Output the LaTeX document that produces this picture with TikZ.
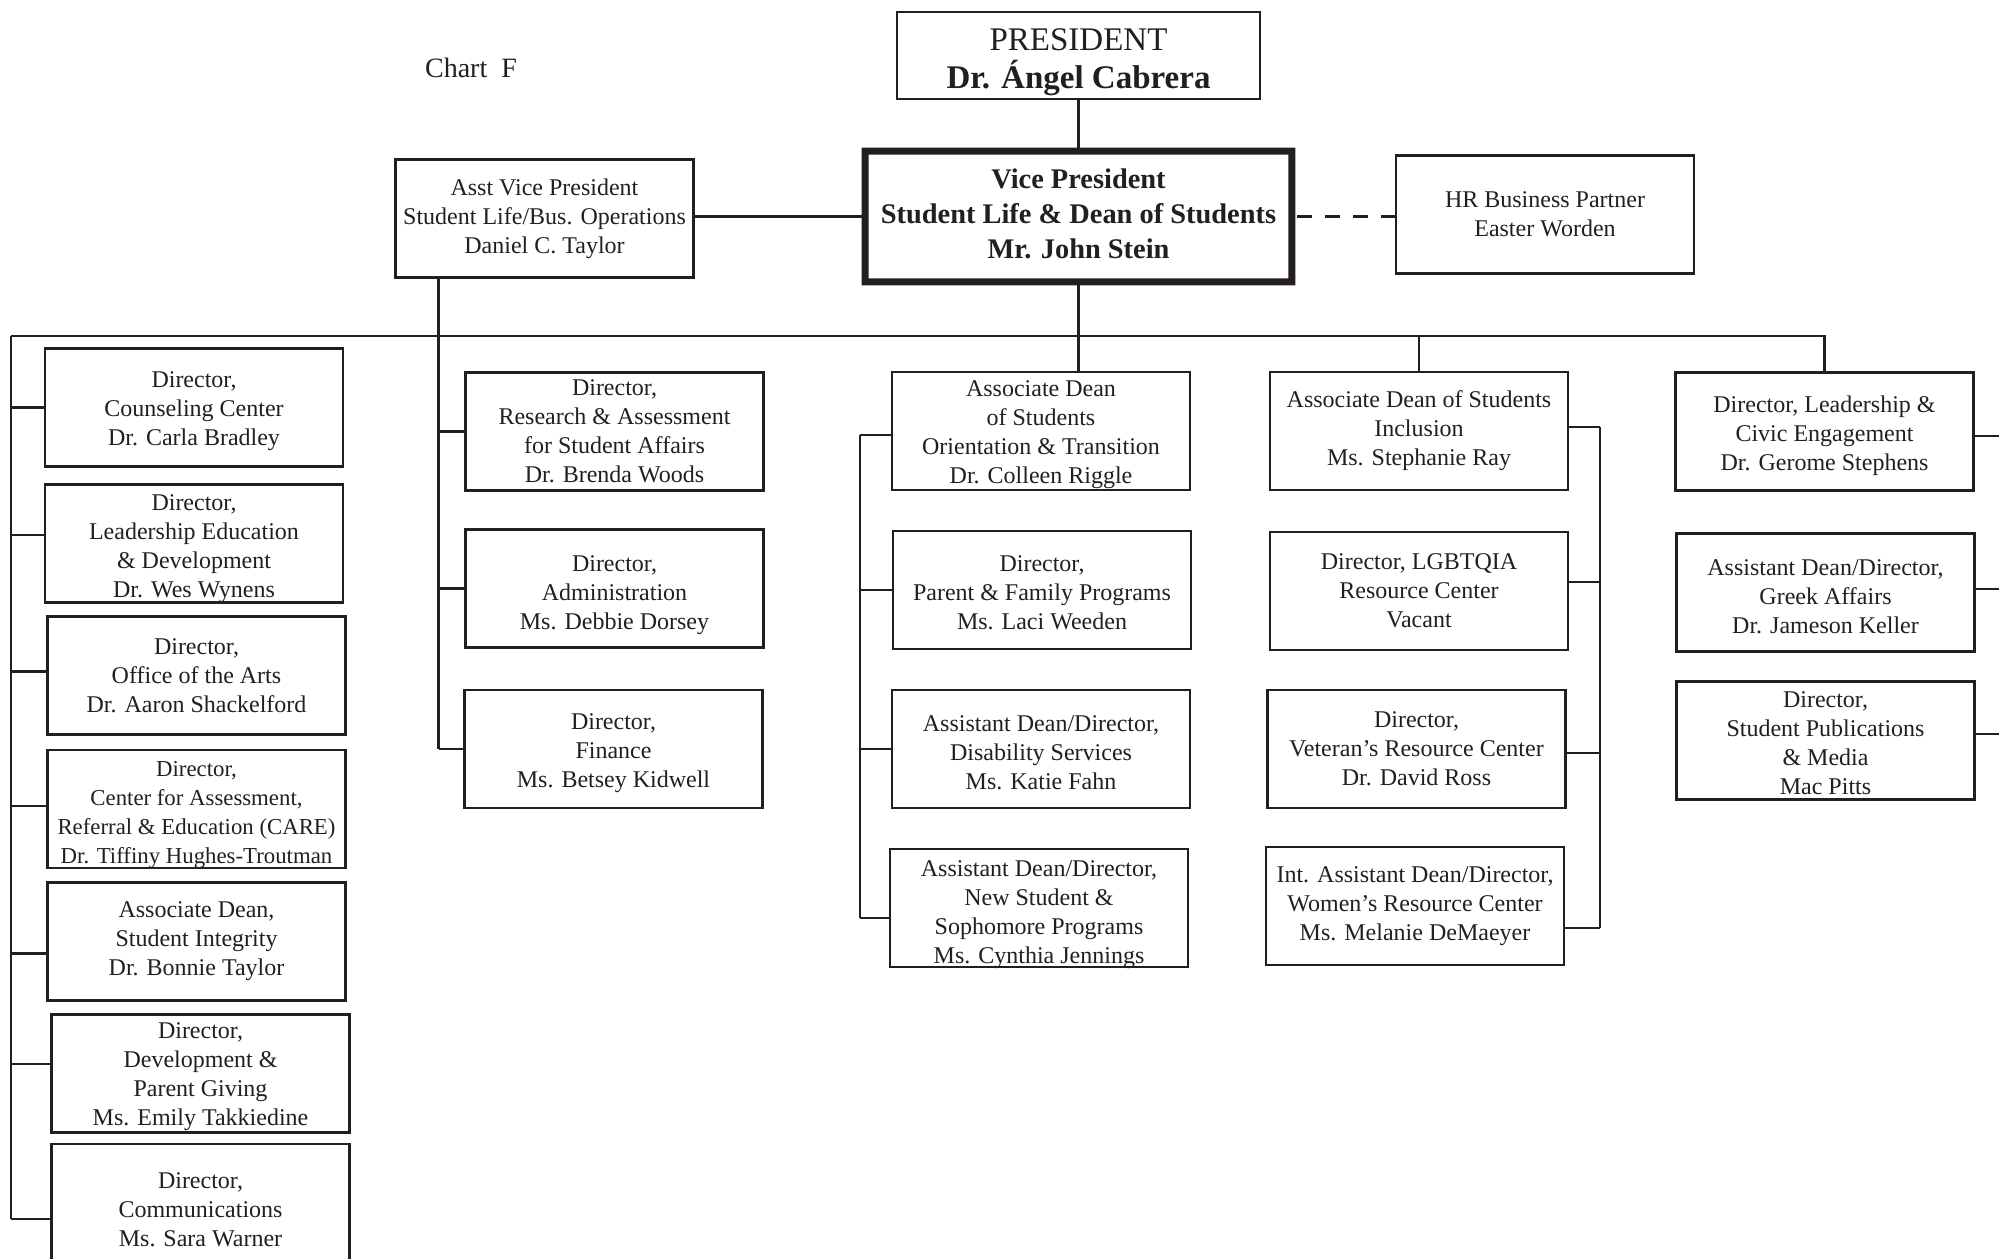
\documentclass[tikz,border=0pt]{standalone}
\usepackage{fontspec}
\setmainfont{Liberation Serif}
\definecolor{ink}{HTML}{231F20}
\tikzset{
  box/.style={draw=ink, line width=1.3pt, minimum width=149pt, minimum height=59pt, inner sep=0pt},
  txt/.style={inner sep=0pt, align=center, text=ink, font=\fontsize{12}{14.5}\selectfont},
  link/.style={draw=ink, line width=1.3pt},
  dashlink/.style={draw=ink, line width=1.3pt, dash pattern=on 7.5pt off 6.5pt},
}
% \obox[box options]{name}{position}{text shift}{text}
\newcommand\obox[5][]{%
  \node[box,#1] (#2) at (#3) {};
  \node[txt, yshift=#4] (#2t) at (#2.center) {#5};}
\begin{document}
\begin{tikzpicture}[x=0.5pt,y=-0.5pt]
\useasboundingbox (0,0) rectangle (1999,1259);
\clip (0,0) rectangle (1999,1259);
\fill[white] (0,0) rectangle (1999,1259);

\node[text=ink, font=\fontsize{14}{16}\selectfont] (chart) at (471,68) {Chart~~F};

% top
\node[box, minimum width=181.5pt, minimum height=43.5pt] (pres) at (1078.5,55.5) {};
\node[txt, font=\fontsize{16.5}{19}\selectfont, yshift=-3.2pt] (prest) at (pres.center) {PRESIDENT\\\textbf{Dr. Ángel Cabrera}};
\node[inner sep=0pt, minimum width=213pt, minimum height=65pt] (vp) at (1078.5,216.5) {};
\fill[ink, even odd rule]
  ([shift={(-1.75pt,1.75pt)}]vp.north west) rectangle ([shift={(1.75pt,-1.75pt)}]vp.south east)
  ([shift={(1.75pt,-1.75pt)}]vp.north west) rectangle ([shift={(-1.75pt,1.75pt)}]vp.south east);
\node[txt, font=\fontsize{14.2}{17.3}\selectfont\bfseries, yshift=1.3pt] (vpt) at (vp.center) {Vice President\\Student Life \& Dean of Students\\Mr. John Stein};
\obox{asvp}{544.5,218.5}{0pt}{Asst Vice President\\Student Life/Bus. Operations\\Daniel C. Taylor}
\obox{hr}{1545,214.5}{0pt}{HR Business Partner\\Easter Worden}

% left column
\obox{L1}{194,407.5}{-1.9pt}{Director,\\Counseling Center\\Dr. Carla Bradley}
\obox{L2}{194,543.5}{-2.5pt}{Director,\\Leadership Education\\\& Development\\Dr. Wes Wynens}
\obox{L3}{196.5,675.5}{0pt}{Director,\\Office of the Arts\\Dr. Aaron Shackelford}
\obox{L4}{196.5,809}{-2.9pt}{\fontsize{11.4}{14.5}\selectfont Director,\\\fontsize{11.4}{14.5}\selectfont Center for Assessment,\\\fontsize{11.4}{14.5}\selectfont Referral \& Education (CARE)\\\fontsize{11.4}{14.5}\selectfont Dr. Tiffiny Hughes-Troutman}
\obox{L5}{196.5,941.5}{0pt}{Associate Dean,\\Student Integrity\\Dr. Bonnie Taylor}
\obox{L6}{200.5,1073.5}{-1.6pt}{Director,\\Development \&\\Parent Giving\\Ms. Emily Takkiedine}
\obox[minimum height=66pt]{L7}{200.5,1210}{0pt}{Director,\\Communications\\Ms. Sara Warner}

% asst VP column
\obox{M1}{614.5,431.5}{0pt}{Director,\\Research \& Assessment\\for Student Affairs\\Dr. Brenda Woods}
\obox{M2}{614.5,588.5}{-3.2pt}{Director,\\Administration\\Ms. Debbie Dorsey}
\obox{M3}{613.5,749}{-1.9pt}{Director,\\Finance\\Ms. Betsey Kidwell}

% orientation column
\obox{A1}{1041,431}{-1.6pt}{Associate Dean\\of Students\\Orientation \& Transition\\Dr. Colleen Riggle}
\obox{A2}{1042,590}{-1.6pt}{Director,\\Parent \& Family Programs\\Ms. Laci Weeden}
\obox{A3}{1041,749}{-1.9pt}{Assistant Dean/Director,\\Disability Services\\Ms. Katie Fahn}
\obox{A4}{1039,908}{-3.2pt}{Assistant Dean/Director,\\New Student \&\\Sophomore Programs\\Ms. Cynthia Jennings}

% inclusion column
\obox{B1}{1419,431}{0pt}{Associate Dean of Students\\Inclusion\\Ms. Stephanie Ray}
\obox{B2}{1419,591}{0pt}{Director, LGBTQIA\\Resource Center\\Vacant}
\obox{B3}{1416.5,749}{0pt}{Director,\\Veteran’s Resource Center\\Dr. David Ross}
\obox{B4}{1415,906}{0pt}{Int. Assistant Dean/Director,\\Women’s Resource Center\\Ms. Melanie DeMaeyer}

% right column
\obox{C1}{1824.5,431.5}{-1.9pt}{Director, Leadership \&\\Civic Engagement\\Dr. Gerome Stephens}
\obox{C2}{1825.5,592.5}{-1.9pt}{Assistant Dean/Director,\\Greek Affairs\\Dr. Jameson Keller}
\obox{C3}{1825.5,740.5}{-1.3pt}{Director,\\Student Publications\\\& Media\\Mac Pitts}

% helper coordinates
\coordinate (busL) at (11,336);
\coordinate (mv) at (438.5,278);
\coordinate (av) at (860,435);
\coordinate (bv) at (1600,427);
\coordinate (redge) at (2010,436);

% top connectors
\draw[link] (pres.south) -- ([yshift=1.75pt]vp.north);
\draw[link] (vp.west -| asvp.east) -- ([xshift=-1.75pt]vp.west);
\draw[dashlink] ([xshift=2.75pt]vp.east) -- (vp.east -| hr.west);

% bus
\draw[link] ([yshift=-1.75pt]vp.south) -- (vp.south |- A1.north);
\draw[link] (busL) -- (busL -| C1.north) -- (C1.north);
\draw[link] (busL -| B1.north) -- (B1.north);

% left column connectors
\coordinate (l1b) at (L1.west);
\coordinate (l2b) at ([yshift=4.25pt]L2.west);
\coordinate (l3b) at ([yshift=2pt]L3.west);
\coordinate (l4b) at ([yshift=1.5pt]L4.west);
\coordinate (l5b) at ([yshift=-6pt]L5.west);
\coordinate (l6b) at ([yshift=4.75pt]L6.west);
\coordinate (l7b) at ([yshift=-4.5pt]L7.west);
\draw[link] (busL) -- (busL |- l7b);
\foreach \b in {l1b,l2b,l3b,l4b,l5b,l6b,l7b}{
  \draw[link] (\b -| busL) -- (\b);
}

% asst VP column connectors
\draw[link] (mv) -- (mv |- M3.west);
\foreach \n in {M1,M2,M3}{
  \draw[link] (\n.west -| mv) -- (\n.west);
}

% orientation column connectors
\coordinate (a1b) at ([yshift=-2pt]A1.west);
\coordinate (a2b) at (A2.west);
\coordinate (a3b) at (A3.west);
\coordinate (a4b) at ([yshift=-5pt]A4.west);
\draw[link] (a1b -| av) -- (a4b -| av);
\foreach \b in {a1b,a2b,a3b,a4b}{
  \draw[link] (\b -| av) -- (\b);
}

% inclusion column connectors
\coordinate (b1b) at ([yshift=2pt]B1.east);
\coordinate (b2b) at ([yshift=4.5pt]B2.east);
\coordinate (b3b) at ([yshift=-2pt]B3.east);
\coordinate (b4b) at ([yshift=-11pt]B4.east);
\draw[link] (b1b -| bv) -- (b4b -| bv);
\foreach \b in {b1b,b2b,b3b,b4b}{
  \draw[link] (\b) -- (\b -| bv);
}

% right column connectors (run off the page)
\coordinate (c1b) at ([yshift=-2.25pt]C1.east);
\coordinate (c2b) at ([yshift=1.75pt]C2.east);
\coordinate (c3b) at ([yshift=3.25pt]C3.east);
\foreach \b in {c1b,c2b,c3b}{
  \draw[link] (\b) -- (\b -| redge);
}
\end{tikzpicture}
\end{document}
